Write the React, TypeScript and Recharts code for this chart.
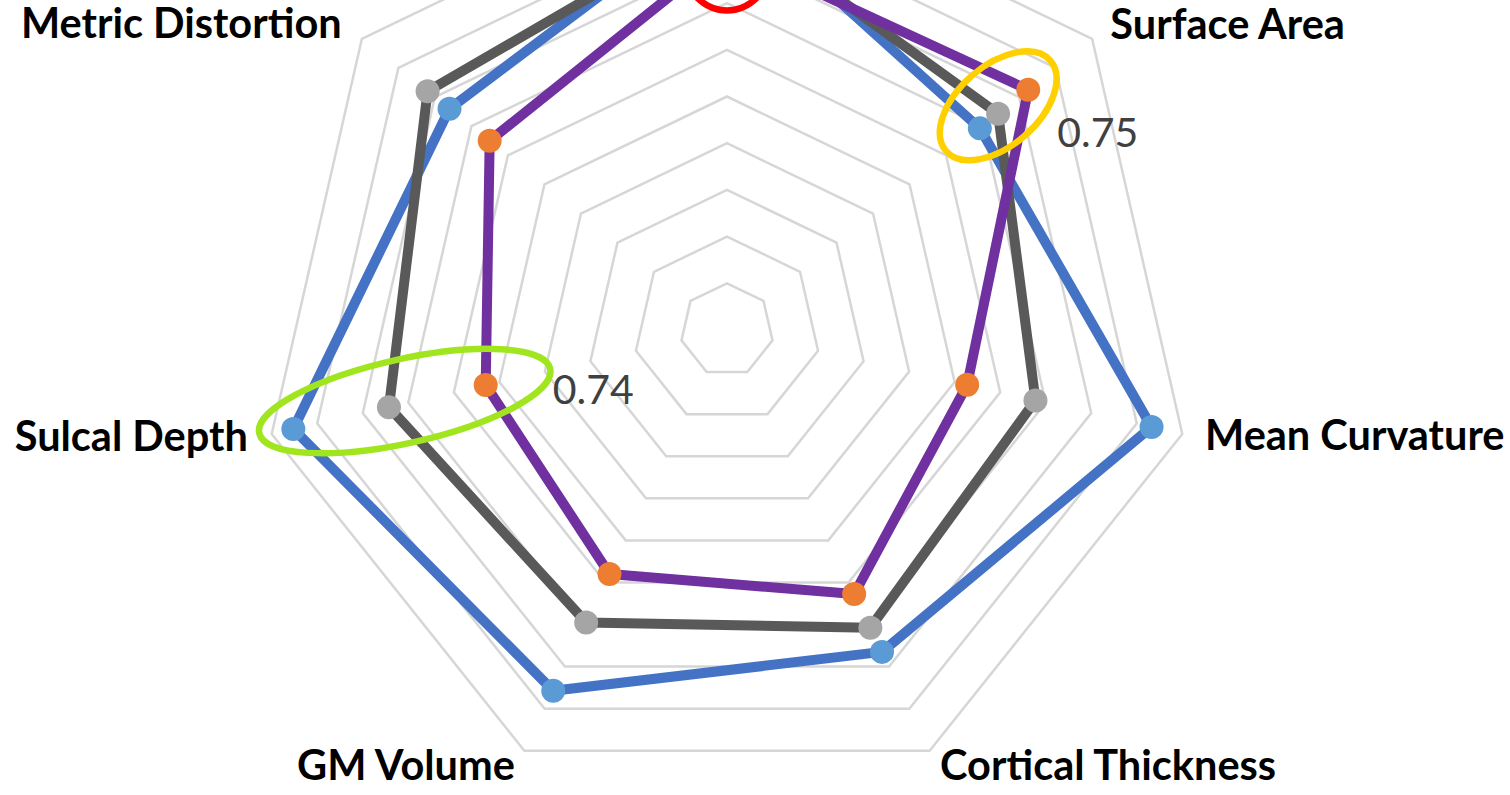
import React from 'react';
import { RadarChart, Radar, PolarGrid, PolarAngleAxis, PolarRadiusAxis } from 'recharts';

const categories = [
  'Areal Distortion',
  'Surface Area',
  'Mean Curvature',
  'Cortical Thickness',
  'GM Volume',
  'Sulcal Depth',
  'Metric Distortion',
];
const seriesBlue = [0.7568, 0.7477, 0.7573, 0.7506, 0.7543, 0.7581, 0.7504];
const seriesGray = [0.7553, 0.7497, 0.7471, 0.7483, 0.7478, 0.7497, 0.7528];
const seriesPurple = [0.7525, 0.753, 0.7411, 0.7451, 0.7432, 0.7412, 0.746];
// radius axis: 0.720 .. 0.760 in steps of 0.004 (expressed in thousandths for the scale)
const radiusTicks = [720, 724, 728, 732, 736, 740, 744, 748, 752, 756, 760];

const data = categories.map((axis, i) => ({
  axis,
  blue: seriesBlue[i] * 1000,
  gray: seriesGray[i] * 1000,
  purple: seriesPurple[i] * 1000,
}));

const FONT = 'Lato, "Open Sans", sans-serif';
const LINE_W = 10;

const tickOffsets: Record<number, [number, number]> = {
  0: [0, -10],
  1: [12, 5],
  2: [15, 14],
  3: [7, 22],
  4: [-6, 22],
  5: [-16, 15],
  6: [-14, 4],
};

const renderTick = (props: any) => {
  const { x, y, payload, textAnchor, index } = props;
  const [dx, dy] = tickOffsets[index] || [0, 0];
  return (
    <text
      x={x + dx}
      y={y + dy}
      textAnchor={textAnchor}
      fontFamily={FONT}
      fontWeight={700}
      fontSize={41.5}
      fill="#000000"
    >
      {payload.value}
    </text>
  );
};

type Annot = { color: string; dx: number; dy: number; rx: number; ry: number; rot: number; label?: [number, number] };
const annotations: Record<number, Annot> = {
  0: { color: '#FF0000', dx: 0, dy: -12, rx: 52, ry: 72, rot: 0 },
  1: { color: '#FFD000', dx: -30, dy: 16, rx: 69, ry: 40, rot: -41, label: [29, 57] },
  5: { color: '#A0E51E', dx: -81, dy: 16, rx: 149, ry: 42, rot: -12.5, label: [67, 19] },
};

const makeDot = (fill: string, values: number[], annotate: boolean) => (props: any) => {
  const { cx, cy, index } = props;
  const a = annotate ? annotations[index] : undefined;
  return (
    <g key={`dot-${fill}-${index}`}>
      <circle cx={cx} cy={cy} r={12} fill={fill} stroke="none" />
      {a && (
        <ellipse
          cx={cx + a.dx}
          cy={cy + a.dy}
          rx={a.rx}
          ry={a.ry}
          fill="none"
          stroke={a.color}
          strokeWidth={6.5}
          transform={`rotate(${a.rot} ${cx + a.dx} ${cy + a.dy})`}
        />
      )}
      {a && a.label && (
        <text
          x={cx + a.label[0]}
          y={cy + a.label[1]}
          fontFamily={FONT}
          fontSize={41}
          fill="#404040"
        >
          {values[index].toFixed(2)}
        </text>
      )}
    </g>
  );
};

const lineStyle = { strokeWidth: LINE_W, strokeLinejoin: 'round' as const };

export default function App() {
  return (
    <div
      style={{
        position: 'absolute',
        left: 0,
        top: 0,
        width: 1510,
        height: 795,
        overflow: 'hidden',
        background: '#ffffff',
      }}
    >
      <RadarChart
        width={1510}
        height={795}
        data={data}
        cx={727}
        cy={330}
        outerRadius={467}
        startAngle={90}
        endAngle={-270}
        margin={{ top: 0, right: 0, bottom: 0, left: 0 }}
      >
        <PolarGrid gridType="polygon" radialLines={false} stroke="#D6D6D6" strokeWidth={2.5} />
        <PolarAngleAxis dataKey="axis" tick={renderTick} tickLine={false} axisLine={false} />
        <PolarRadiusAxis
          type="number"
          domain={[radiusTicks[0], radiusTicks[radiusTicks.length - 1]]}
          ticks={radiusTicks}
          tickCount={radiusTicks.length}
          allowDataOverflow={true}
          tick={false}
          axisLine={false}
          tickLine={false}
        />
        <Radar
          dataKey="blue"
          stroke="#4472C4"
          strokeWidth={LINE_W}
          style={lineStyle}
          fill="none"
          fillOpacity={0}
          dot={makeDot('#5B9BD5', seriesBlue, false)}
          isAnimationActive={false}
        />
        <Radar
          dataKey="gray"
          stroke="#595959"
          strokeWidth={LINE_W}
          style={lineStyle}
          fill="none"
          fillOpacity={0}
          dot={makeDot('#A5A5A5', seriesGray, false)}
          isAnimationActive={false}
        />
        <Radar
          dataKey="purple"
          stroke="#7030A0"
          strokeWidth={LINE_W}
          style={lineStyle}
          fill="none"
          fillOpacity={0}
          dot={makeDot('#ED7D31', seriesPurple, true)}
          isAnimationActive={false}
        />
      </RadarChart>
    </div>
  );
}
